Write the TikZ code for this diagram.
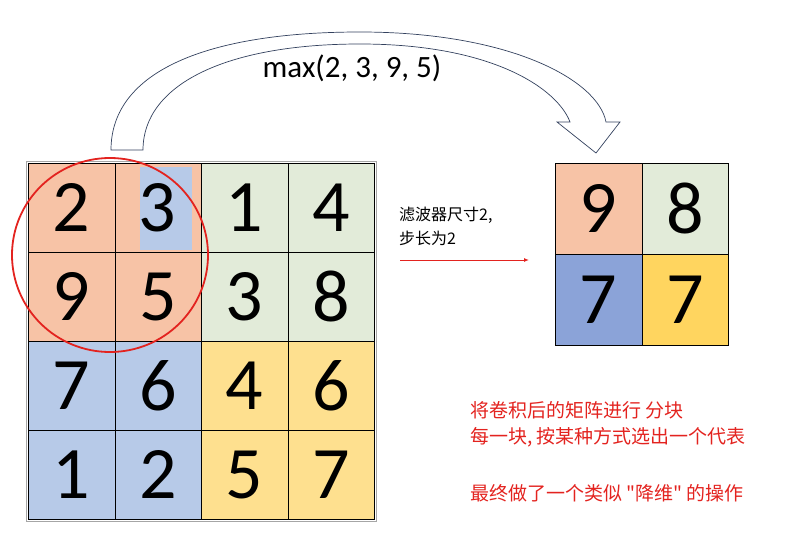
\documentclass[tikz,border=0pt]{standalone}
\usepackage{fontspec}
\usetikzlibrary{arrows.meta}
\setmainfont{Carlito}
\newfontfamily\cjk{Noto Sans CJK SC}
\definecolor{salmon}{HTML}{F7C3A6}
\definecolor{lgreen}{HTML}{E2EBD9}
\definecolor{lblue}{HTML}{B7CAE8}
\definecolor{lyellow}{HTML}{FEE08F}
\definecolor{dblue}{HTML}{8BA3D8}
\definecolor{dyellow}{HTML}{FFD55F}
\definecolor{redtxt}{HTML}{E3231F}
\definecolor{arrowline}{HTML}{33415E}
\tikzset{
 cellbox/.style={draw=black, line width=0.6pt, minimum width=86.5pt, minimum height=89pt, inner sep=0pt, anchor=north west, font=\fontsize{74}{74}\selectfont},
 smallcell/.style={draw=black, line width=0.8pt, minimum width=86.5pt, minimum height=91pt, inner sep=0pt, anchor=north west, font=\fontsize{74}{74}\selectfont},
 redlabel/.style={text=redtxt, anchor=west, inner sep=0pt, font=\cjk\fontsize{19}{22}\selectfont},
}
\begin{document}
\begin{tikzpicture}[x=1pt,y=-1pt]
\useasboundingbox (0,0) rectangle (798,543);
% curved block arrow
\draw[arrowline, line width=0.7pt, fill=white] (111,150) .. controls (111,70) and (210,32) .. (360,32) .. controls (510,32) and (598,80) .. (606,122) -- (620,122) -- (596,153) -- (557,122) -- (570,122) .. controls (558,90) and (495,44) .. (360,44) .. controls (225,44) and (143,85) .. (143,150) -- cycle;
\node[font=\fontsize{31}{31}\selectfont, inner sep=0pt] (mx) at (352,68) {max(2, 3, 9, 5)};
% left grid
\node[cellbox, fill=salmon] (a11) at (28,163) {2};
\node[cellbox, fill=salmon] (a12) at (114.5,163) {};
\fill[lblue] (140,167) rectangle (192,250);
\node[inner sep=0pt, font=\fontsize{74}{74}\selectfont] (t3) at (157.75,207.5) {3};
\node[cellbox, fill=lgreen] (a13) at (201,163) {1};
\node[cellbox, fill=lgreen] (a14) at (287.5,163) {4};
\node[cellbox, fill=salmon] (a21) at (28,252) {9};
\node[cellbox, fill=salmon] (a22) at (114.5,252) {5};
\node[cellbox, fill=lgreen] (a23) at (201,252) {3};
\node[cellbox, fill=lgreen] (a24) at (287.5,252) {8};
\node[cellbox, fill=lblue] (a31) at (28,341) {7};
\node[cellbox, fill=lblue] (a32) at (114.5,341) {6};
\node[cellbox, fill=lyellow] (a33) at (201,341) {4};
\node[cellbox, fill=lyellow] (a34) at (287.5,341) {6};
\node[cellbox, fill=lblue] (a41) at (28,430) {1};
\node[cellbox, fill=lblue] (a42) at (114.5,430) {2};
\node[cellbox, fill=lyellow] (a43) at (201,430) {5};
\node[cellbox, fill=lyellow] (a44) at (287.5,430) {7};
\draw[black!35, line width=0.5pt] (26,161) rectangle (376,521);
% red circle
\draw[redtxt, line width=1.8pt] (110,255) ellipse [x radius=98pt, y radius=97pt];
% middle label and arrow
\node[anchor=west, inner sep=0pt, align=left, font=\cjk\fontsize{16}{24}\selectfont] (lab) at (399,226) {滤波器尺寸2,\\步长为2};
\coordinate (ra) at (400,260);
\coordinate (rb) at (529,260);
\draw[redtxt, line width=1pt, -{Latex[length=5pt,width=4pt]}] (ra) -- (rb);
% right grid
\node[smallcell, fill=salmon] (b11) at (555,163) {9};
\node[smallcell, fill=lgreen] (b12) at (641.5,163) {8};
\node[smallcell, fill=dblue] (b21) at (555,254) {7};
\node[smallcell, fill=dyellow] (b22) at (641.5,254) {7};
% red notes
\node[redlabel] (n1) at (470,410) {将卷积后的矩阵进行 分块};
\node[redlabel] (n2) at (470,437) {每一块, 按某种方式选出一个代表};
\node[redlabel] (n3) at (470,493) {最终做了一个类似 "降维" 的操作};
\end{tikzpicture}
\end{document}
